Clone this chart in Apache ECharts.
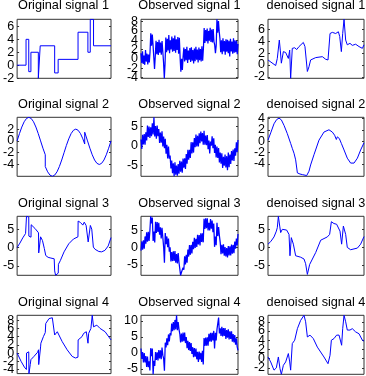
<!DOCTYPE html>
<html><head><meta charset="utf-8">
<script src="https://cdn.jsdelivr.net/npm/echarts@6/dist/echarts.min.js"></script>
<style>html,body{margin:0;padding:0;background:#fff}#c{width:366px;height:376px}</style>
</head><body><div id="c"></div>
<script>
const titles = ['Original signal 1','Observed signal 1','denoised signal 1',
  'Original signal 2','Observed signal 2','denoised signal 2',
  'Original signal 3','Observed signal 3','denoised signal 3',
  'Original signal 4','Observed signal 4','denoised signal 4'];

const original1 = [[0,0],[0.095,0],[0.095,4],[0.124,4],[0.124,-1],[0.147,-1],[0.147,2],[0.226,2],[0.226,-2.03],[0.246,-2.03],[0.246,3],[0.40,3],[0.40,-1.2],[0.437,-1.2],[0.437,0.9],[0.649,0.9],[0.649,5.1],[0.754,5.1],[0.754,2.0],[0.779,2.0],[0.779,7.1],[0.814,7.1],[0.814,3],[1,3]];
const observed1 = [1.2,-0.9,1.6,-1.1,0.7,-1.3,1.9,-0.6,1.1,-1.2,0.9,-0.8,1.4,
  5.5,2.8,5.2,3.0, 0.4,-2.2,0.6,
  3.9,1.0,3.6,0.8,4.1,1.3,3.5,0.9,3.8,1.5, -0.8,-4.2,-1.0,
  4.6,1.4,4.3,1.8,5.1,1.2,4.0,2.0,4.8,1.5,4.4,1.7,5.0,1.3,4.2,1.9,4.7,1.1,4.5,
  0.3,-2.8,0.0,-2.4,0.5,
  2.4,-0.6,2.1,-0.3,2.6,-0.9,1.8,-0.2,2.3,-0.7,2.5,-0.4,1.9,-1.0,2.2,-0.5,2.6,-0.2,2.0,-0.8,2.4,-0.3,2.1,-0.6,2.7,-0.4,2.2,
  6.6,3.4,6.2,3.8,6.5,3.3,6.0,3.9,6.7,3.6,6.3,3.5,6.4,3.7, 3.0,1.2,2.8, 8.5,5.6,8.1,5.9,
  4.3,1.4,4.0,1.0,4.4,1.6,3.8,0.9,4.2,1.5,4.1,1.2,3.9,0.5,4.3,1.6,3.7,1.1,4.4,1.3,4.0,1.4,3.9,1.0,3.2];
const denoised1 = [[0,0.84],[0.08,-0.1],[0.097,1.1],[0.108,1.4],[0.118,4.2],[0.128,2.5],[0.139,0.3],[0.16,2.25],[0.184,2.1],[0.201,2.25],[0.212,1.1],[0.226,2.5],[0.236,-2.25],[0.253,2.8],[0.278,2.9],[0.299,2.6],[0.323,3.1],[0.368,3.8],[0.385,3.1],[0.41,-1.1],[0.427,-0.3],[0.444,0.84],[0.497,1.24],[0.566,1.4],[0.601,0.96],[0.625,0.84],[0.646,5.3],[0.67,5.5],[0.705,5.3],[0.733,5.6],[0.747,4.8],[0.764,2.25],[0.778,5.3],[0.792,7.7],[0.809,4.2],[0.826,3.4],[0.854,3.65],[0.878,3.3],[0.913,3.5],[0.948,3.1],[0.983,2.8],[1,3.4]];

const original2 = [[0,0],[0.025,1.24],[0.05,2.35],[0.075,3.24],[0.1,3.8],[0.125,4.0],[0.15,3.8],[0.175,3.24],[0.2,2.35],[0.225,1.24],[0.25,0],[0.275,-1.24],[0.3,-2.35],[0.3,-4.35],[0.325,-5.24],[0.35,-5.8],[0.375,-6.0],[0.4,-5.8],[0.425,-5.24],[0.45,-4.35],[0.475,-3.24],[0.5,-2.0],[0.525,-0.76],[0.55,0.35],[0.575,1.24],[0.6,1.8],[0.625,2.0],[0.65,1.8],[0.675,1.24],[0.7,0.35],[0.72,-0.53],[0.72,1.47],[0.75,0],[0.775,-1.24],[0.8,-2.35],[0.825,-3.24],[0.85,-3.8],[0.875,-4.0],[0.9,-3.8],[0.925,-3.24],[0.95,-2.35],[0.975,-1.24],[1,0]];
const observed2 = [1.6,-0.78,2.83,0.34,3.01,0.28,3.45,1.35,5.14,2.24,4.93,2.01,4.7,2.47,5.73,2.9,7.25,2.37,5.0,1.81,
  5.13,2.44,4.24,0.75,3.35,0.78,3.71,-0.16,2.33,-0.58,1.8,-2.02,0.27,-3.24,-0.21,-3.28,-2.45,-5.75,-3.74,-6.94,
  -4.43,-7.75,-4.2,-7.37,-5.03,-7.6,-4.63,-7.07,-3.8,-6.61,-4.03,-6.84,-3.24,-5.55,-3.15,-5.88,-2.11,-4.54,-1.03,-3.52,
  -1.0,-3.08,0.93,-1.96,0.91,-1.72,1.95,-0.35,2.84,-0.16,2.53,-0.19,3.2,0.67,3.63,1.1,3.23,0.27,3.8,0.31,
  2.63,0.14,2.74,-0.85,1.35,-1.92,1.11,0.04,2.43,-0.58,1.9,-1.82,0.27,-2.94,-0.21,-3.08,-0.55,-4.25,-1.74,-4.54,
  -1.93,-5.61,-2.8,-5.07,-2.23,-5.5,-2.63,-6.2,-1.7,-5.41,-2.23,-4.64,-1.34,-3.75,-0.95,-3.88,-0.61,-2.54,0.87,-1.62,1.5];
const denoised2 = [[0,0.17],[0.028,1.45],[0.0625,3.06],[0.09,3.8],[0.115,4.05],[0.139,3.75],[0.167,2.77],[0.201,1.33],[0.236,-0.4],[0.253,-1.27],[0.271,-2.14],[0.288,-3.3],[0.306,-5.6],[0.333,-5.8],[0.358,-5.9],[0.403,-6.07],[0.427,-5.3],[0.444,-4.2],[0.479,-2.4],[0.531,0.17],[0.583,1.6],[0.635,2.0],[0.67,1.6],[0.694,1.04],[0.712,0.29],[0.722,0.75],[0.733,1.04],[0.743,0.46],[0.764,-0.4],[0.792,-1.56],[0.826,-3.0],[0.861,-3.87],[0.896,-3.87],[0.931,-3.0],[0.965,-1.56],[1,-0.29]];

const original3 = [[0,0],[0.03,1.2],[0.06,2.6],[0.09,3.8],[0.099,4.0],[0.1,8.5],[0.124,8.3],[0.125,3.1],[0.148,2.8],[0.15,6.2],[0.19,5.2],[0.228,4.0],[0.23,-1.5],[0.248,-1.9],[0.25,2.9],[0.27,1.9],[0.29,-0.3],[0.305,-2.2],[0.33,-2.7],[0.36,-2.9],[0.395,-3.1],[0.4,-6.4],[0.41,-7.6],[0.438,-7.0],[0.44,-4.6],[0.46,-3.6],[0.5,-1.2],[0.55,1.0],[0.6,2.3],[0.648,2.9],[0.65,7.2],[0.675,6.8],[0.70,6.1],[0.715,6.9],[0.735,6.0],[0.755,5.6],[0.757,1.5],[0.778,1.8],[0.78,6.0],[0.795,5.0],[0.81,4.5],[0.812,0.1],[0.83,-0.5],[0.87,-1.1],[0.9,-1.2],[0.935,-0.8],[0.97,0.4],[1,2.7]];
const observed3 = [-0.9,1.83,-0.63,2.1,-0.35,3.2,1.13,4.4,1.67,4.5,1.9,4.85,9.0,6.95,8.65,1.9,4.6,1.45,7.4,4.2,
  7.35,4.5,7.1,3.7,5.8,2.6,5.7,2.9,0.2,-4.4,4.2,1.0,3.2,0.1,2.6,-1.2,0.1,-4.0,-1.3,-3.9,
  -1.1,-3.85,-1.0,-4.35,-1.9,-4.55,-1.6,-4.3,-4.7,-8.0,-7.2,-7.6,-5.8,-6.4,-2.5,-4.9,-2.1,-4.4,-0.6,-2.6,
  0.7,-2.1,0.75,-1.7,1.65,-0.5,2.8,-0.15,2.5,0.2,3.65,0.9,3.6,0.6,4.1,1.6,4.1,1.5,8.3,5.35,
  8.4,5.6,8.45,4.9,7.1,4.9,8.2,5.4,7.8,4.4,6.9,0.2,3.2,0.7,7.1,3.3,5.9,3.4,1.5,-1.9,
  0.8,-1.7,0.95,-2.35,0.15,-2.6,-0.12,-2.85,0.4,-2.25,0.35,-2.25,0.85,-1.8,0.75,-1.65,1.7,-0.3,2.6,0.6,3.9];
const denoised3 = [[0,0.9],[0.028,1.6],[0.0625,2.9],[0.087,4.5],[0.097,5.45],[0.108,8.6],[0.122,5.9],[0.132,4.1],[0.149,5.0],[0.167,5.45],[0.194,4.8],[0.219,3.6],[0.229,-2.3],[0.243,2.7],[0.264,0.9],[0.288,-2.3],[0.34,-2.7],[0.375,-3.2],[0.392,-4.5],[0.41,-7.45],[0.434,-4.7],[0.497,-1.4],[0.549,2.0],[0.618,2.9],[0.642,3.6],[0.66,7.1],[0.687,6.6],[0.715,6.4],[0.733,5.9],[0.75,4.5],[0.767,0.9],[0.785,5.9],[0.809,3.6],[0.826,0],[0.861,-0.64],[0.931,-0.18],[0.965,0.9],[1,3.0]];

const original4 = [[0,0],[0.042,-2.0],[0.077,-3.4],[0.099,-4.0],[0.1,0],[0.112,0.2],[0.124,0.3],[0.126,-5.0],[0.14,-2.8],[0.147,-1.6],[0.18,-0.8],[0.218,0.2],[0.228,0.8],[0.23,-2.8],[0.246,-2.4],[0.25,1.5],[0.253,2.4],[0.28,4.0],[0.3,5.0],[0.305,7.2],[0.34,8.4],[0.375,8.6],[0.395,8.4],[0.4,4.4],[0.428,5.2],[0.446,4.8],[0.48,2.8],[0.533,0.8],[0.586,-0.8],[0.621,-1.2],[0.648,-1.0],[0.65,3.2],[0.691,4.0],[0.709,4.8],[0.737,5.2],[0.752,5.2],[0.755,2.4],[0.76,2.4],[0.762,4.8],[0.786,6.0],[0.8,9.2],[0.814,6.4],[0.849,6.8],[0.884,6.0],[0.937,5.2],[1,3.2]];
const observed4 = [1.4,-1.9,0.3,-3.0,0.0,-3.0,-1.0,-4.4,-1.1,-4.5,-2.6,-5.5,1.5,-1.0,1.4,-6.7,-2.5,-4.1,0.3,-2.2,
  0.2,-2.35,0.9,-1.7,0.8,-2.0,1.7,-0.7,-1.8,-5.6,3.2,1.7,4.6,2.4,5.8,3.6,6.2,5.5,9.2,6.8,
  9.7,7.1,10.35,7.4,11.8,7.1,9.7,7.4,6.0,3.3,6.1,3.5,6.4,3.7,6.4,3.1,5.0,1.5,3.8,0.9,
  3.4,0.6,3.1,-0.3,1.8,-1.3,1.55,-1.2,1.35,-2.0,0.35,-2.8,0.4,-2.05,0.05,-2.8,0.65,-3.6,4.7,2.2,
  4.8,2.3,4.9,2.3,6.0,3.6,6.3,3.5,6.3,3.9,6.9,1.4,6.3,3.9,7.4,6.9,11.1,6.1,7.7,5.3,
  8.2,5.2,7.8,5.3,7.8,4.4,7.2,4.8,7.4,4.2,6.8,4.4,6.75,3.5,5.9,3.3,5.6,2.6,4.6,1.9,0.8];
const denoised4 = [[0,0.36],[0.028,-0.72],[0.0625,-2.5],[0.087,-2.0],[0.108,0.36],[0.125,-2.2],[0.139,-3.4],[0.16,-1.45],[0.184,-0.72],[0.212,1.1],[0.226,-0.72],[0.236,-2.5],[0.253,3.26],[0.278,4.0],[0.306,6.5],[0.34,8.3],[0.375,9.4],[0.392,8.0],[0.41,4.7],[0.4375,5.1],[0.472,4.35],[0.514,2.5],[0.583,0.36],[0.625,-1.1],[0.646,0.72],[0.66,4.0],[0.6875,4.35],[0.715,5.1],[0.74,5.1],[0.757,4.7],[0.767,2.9],[0.778,6.5],[0.792,9.4],[0.809,8.0],[0.826,6.2],[0.854,6.2],[0.878,6.5],[0.913,5.8],[0.948,5.4],[0.983,4.0],[1,3.8]];

const yTicks = [[-2,0,2,4,6],[-4,-2,0,2,4,6,8],[-2,0,2,4,6],
  [-4,-2,0,2],[-5,0,5],[-4,-2,0,2,4],
  [-5,0,5],[-5,0,5],[-5,0,5],
  [-4,-2,0,2,4,6,8],[-5,0,5,10],[-2,0,2,4,6,8]];
const yMin = [-2.03,-4.2,-2.25, -6.0,-7.75,-6.2, -7.6,-8.0,-7.7, -5.0,-6.7,-3.4];
const yMax = [7.1,8.5,7.7, 4.0,7.25,4.2, 8.5,9.0,8.6, 9.2,11.8,9.4];

function evenly(arr){ return arr.map((v,i)=>[i/(arr.length-1), v]); }
const seriesData = [original1, evenly(observed1), denoised1,
  original2, evenly(observed2), denoised2,
  original3, evenly(observed3), denoised3,
  original4, evenly(observed4), denoised4];

// layout (px)
const colLeft = [16,141,268], colWidth = [95,97,96];
const rowTop = [19.3,117.3,216.3,315.3], rowHeight = 59;
const titleTop = [-1,97.5,196.5,295.5];
const FONT = '"Liberation Sans", Arial, Helvetica, sans-serif';

const grid=[], xAxis=[], yAxis=[], series=[], title=[];
for (let k=0;k<12;k++){
  const r=Math.floor(k/3), c=k%3;
  grid.push({left:colLeft[c], top:rowTop[r], width:colWidth[c], height:rowHeight,
    show:true, borderColor:'#333', borderWidth:1, backgroundColor:'#fff', containLabel:false});
  xAxis.push({type:'value', gridIndex:k, min:0, max:1, show:false});
  const common = {type:'value', gridIndex:k, min:yMin[k], max:yMax[k],
    splitLine:{show:false}, axisLine:{show:false}};
  // labels split over two coincident left axes so that crowded labels all stay visible
  const evenLabels = yTicks[k].filter((v,i)=>i%2===0);
  const oddLabels = yTicks[k].filter((v,i)=>i%2===1);
  const lbl = vals => ({show:true, margin:3, color:'#000', fontSize:12.5, fontFamily:FONT, customValues:vals,
      showMinLabel:true, showMaxLabel:true, hideOverlap:false});
  const first = yAxis.length;
  yAxis.push(Object.assign({}, common, {position:'left',
    axisTick:{show:true, inside:true, length:2, lineStyle:{color:'#333'}, customValues:yTicks[k]},
    axisLabel:lbl(evenLabels)}));
  yAxis.push(Object.assign({}, common, {position:'left', offset:0,
    axisTick:{show:false}, axisLabel:lbl(oddLabels)}));
  yAxis.push(Object.assign({}, common, {position:'right',
    axisTick:{show:true, inside:true, length:2, lineStyle:{color:'#333'}, customValues:yTicks[k]},
    axisLabel:{show:false}}));
  const noisy = (c===1);
  series.push({type:'line', xAxisIndex:k, yAxisIndex:first, data:seriesData[k], showSymbol:false,
    symbol:'none', lineStyle:{color:'#0000ff', width: noisy ? 1.25 : 1}, itemStyle:{color:'#0000ff'}, clip:true, animation:false});
  title.push({text:titles[k], left:colLeft[c]+colWidth[c]/2, top:titleTop[r], textAlign:'center', padding:0,
    textStyle:{fontSize:12.7, fontWeight:'normal', color:'#000', fontFamily:FONT}});
}
const chart = echarts.init(document.getElementById('c'), null, {renderer:'canvas'});
chart.setOption({animation:false, backgroundColor:'#fff', title, grid, xAxis, yAxis, series});
</script></body></html>
